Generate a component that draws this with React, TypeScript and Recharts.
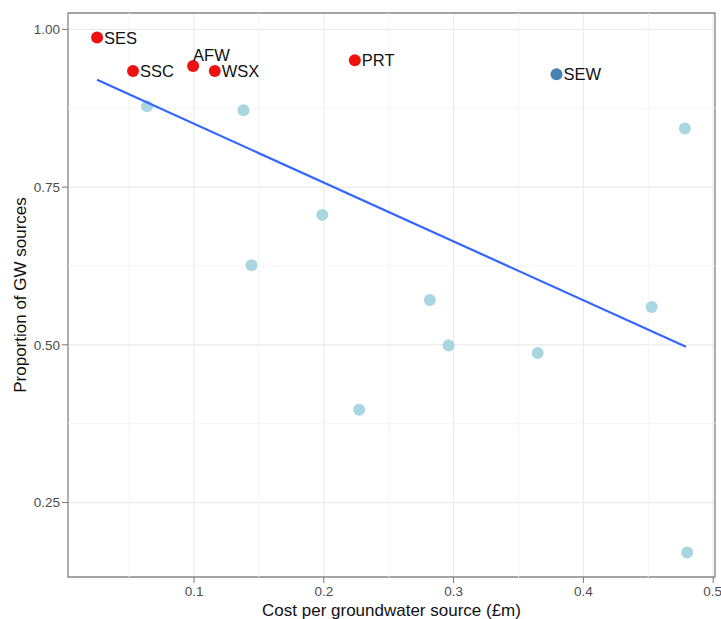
import React from "react";
import { ScatterChart, Scatter, XAxis, YAxis, CartesianGrid, ReferenceLine, ReferenceArea } from "recharts";

// companies flagged in red
const flaggedNames = ["SES", "SSC", "AFW", "WSX", "PRT"];
const flaggedCost = [0.0253, 0.053, 0.0993, 0.116, 0.2239];
const flaggedShare = [0.987, 0.934, 0.942, 0.934, 0.951];

// highlighted company
const sewName = "SEW";
const sewCost = 0.3793;
const sewShare = 0.929;

// remaining companies
const otherCost = [0.0638, 0.1381, 0.1988, 0.1443, 0.2817, 0.2961, 0.2272, 0.3648, 0.4526, 0.4782, 0.48];
const otherShare = [0.878, 0.872, 0.706, 0.626, 0.571, 0.499, 0.397, 0.487, 0.56, 0.843, 0.171];

// fitted linear trend (ends)
const fitCost = [0.0253, 0.479];
const fitShare = [0.92, 0.497];

const xTicks = [0.1, 0.2, 0.3, 0.4, 0.5];
const yTicks = [0.25, 0.5, 0.75, 1.0];
const xMinor = [0.05, 0.15, 0.25, 0.35, 0.45];
const yMinor = [0.375, 0.625, 0.875];

const xDomain: [number, number] = [0.0029, 0.5014];
const yDomain: [number, number] = [0.132, 1.026];

const flagged = flaggedNames.map((name, i) => ({ name, x: flaggedCost[i], y: flaggedShare[i] }));
const sew = [{ name: sewName, x: sewCost, y: sewShare }];
const others = otherCost.map((x, i) => ({ x, y: otherShare[i] }));
const fit = fitCost.map((x, i) => ({ x, y: fitShare[i] }));

const FONT = "'Liberation Sans', Arial, sans-serif";

// label nudges (px); default is to the right of the point
const nudge: Record<string, [number, number]> = { AFW: [0, -11] };

const dot = (color: string, withLabel: boolean) => (props: any) => {
  const { cx, cy, payload } = props;
  const [dx, dy] = nudge[payload.name] || [7, 0];
  return (
    <g>
      <circle cx={cx} cy={cy} r={6} fill={color} />
      {withLabel && (
        <text x={cx + dx} y={cy + dy} dy="0.36em" fontSize={16.5} fill="#111" fontFamily={FONT}>
          {payload.name}
        </text>
      )}
    </g>
  );
};

export default function App() {
  return (
    <div style={{ position: "absolute", left: 0, top: 0, background: "#fff" }}>
      <ScatterChart width={721} height={619} margin={{ top: 13, right: 6, bottom: 0, left: 0 }}>
        {xMinor.map((v) => (
          <ReferenceLine key={"mx" + v} x={v} stroke="#F4F4F4" strokeWidth={1} />
        ))}
        {yMinor.map((v) => (
          <ReferenceLine key={"my" + v} y={v} stroke="#F4F4F4" strokeWidth={1} />
        ))}
        <CartesianGrid stroke="#EBEBEB" strokeWidth={1.2} />
        <XAxis
          type="number"
          dataKey="x"
          domain={xDomain}
          ticks={xTicks}
          allowDataOverflow
          height={42}
          axisLine={false}
          tickSize={6}
          tickMargin={3}
          tickLine={{ stroke: "#777" }}
          tick={{ fill: "#4D4D4D", fontSize: 13.5, fontFamily: FONT }}
          tickFormatter={(v: number) => v.toString()}
          label={{
            value: "Cost per groundwater source (£m)",
            position: "insideBottom",
            offset: 3,
            style: { fill: "#111", fontSize: 17, fontFamily: FONT },
          }}
        />
        <YAxis
          type="number"
          dataKey="y"
          domain={yDomain}
          ticks={yTicks}
          allowDataOverflow
          width={68}
          axisLine={false}
          tickSize={6}
          tickMargin={2}
          tickLine={{ stroke: "#777" }}
          tick={{ fill: "#4D4D4D", fontSize: 13.5, fontFamily: FONT }}
          tickFormatter={(v: number) => v.toFixed(2)}
          label={{
            value: "Proportion of GW sources",
            angle: -90,
            position: "insideLeft",
            offset: 20,
            style: { fill: "#111", fontSize: 17, fontFamily: FONT, textAnchor: "middle" },
          }}
        />
        <ReferenceArea
          x1={xDomain[0]}
          x2={xDomain[1]}
          y1={yDomain[0]}
          y2={yDomain[1]}
          fill="none"
          stroke="#8a8a8a"
          strokeWidth={1.3}
        />
        <Scatter data={others} isAnimationActive={false} shape={dot("#A9D6E1", false)} />
        <Scatter
          data={fit}
          isAnimationActive={false}
          line={{ stroke: "#3366FF", strokeWidth: 2.2 }}
          shape={() => <g />}
        />
        <Scatter data={sew} isAnimationActive={false} shape={dot("#4682B4", true)} />
        <Scatter data={flagged} isAnimationActive={false} shape={dot("#EE1111", true)} />
      </ScatterChart>
    </div>
  );
}
